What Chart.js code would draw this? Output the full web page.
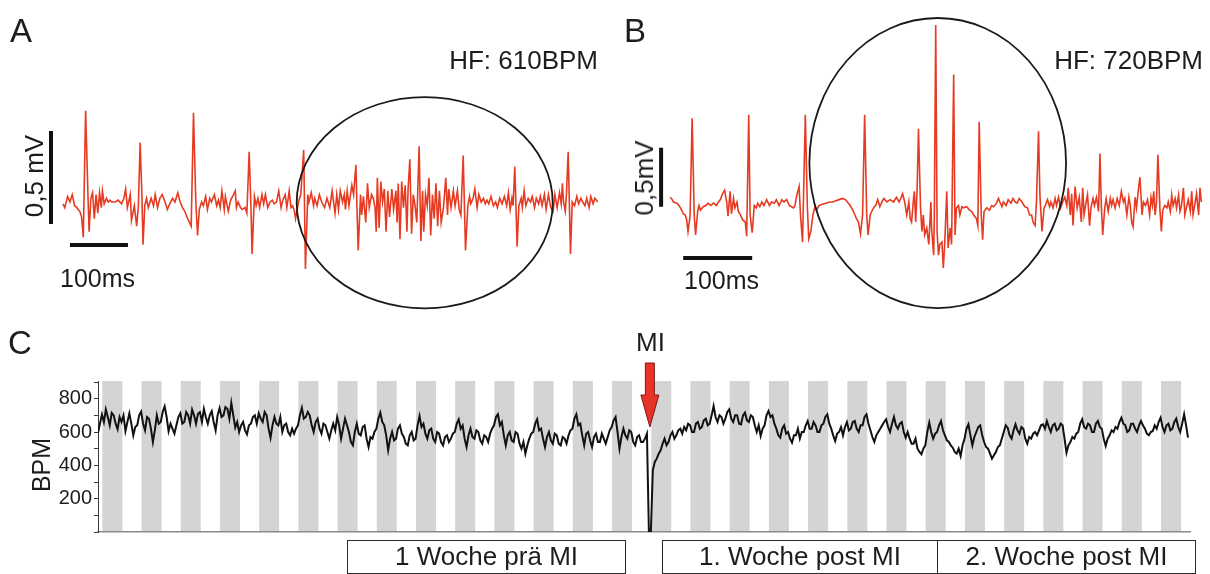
<!DOCTYPE html>
<html>
<head>
<meta charset="utf-8">
<script src="https://cdn.jsdelivr.net/npm/chart.js@4.4.1/dist/chart.umd.min.js"></script>
<style>
  html, body { margin: 0; padding: 0; background: #fff; }
  #page { position: relative; width: 1210px; height: 574px; overflow: hidden;
          font-family: Arial, "Liberation Sans", Helvetica, sans-serif; color: #1d1d1b; }
  canvas { position: absolute; }
  .t { position: absolute; line-height: 1; white-space: nowrap; }
  .rot { transform: translate(-50%, -50%) rotate(-90deg); }
  .box { position: absolute; top: 540px; height: 34px; border: 1px solid #2a2a2a; box-sizing: border-box;
         font-size: 26px; line-height: 31px; text-align: center; }
</style>
</head>
<body>
<div id="page">
  <canvas id="ecgA" width="610" height="320" style="left:0;top:0"></canvas>
  <canvas id="ecgB" width="600" height="320" style="left:610px;top:0"></canvas>
  <canvas id="bpm" width="1210" height="244" style="left:0;top:330px"></canvas>

  <div class="t" style="left:10px;top:14px;font-size:33px">A</div>
  <div class="t" style="left:624px;top:14px;font-size:33px">B</div>
  <div class="t" style="left:8px;top:326px;font-size:33px">C</div>

  <div class="t" style="right:612px;top:47px;font-size:26px">HF: 610BPM</div>
  <div class="t" style="right:7px;top:47px;font-size:26px">HF: 720BPM</div>

  <div class="t rot" style="left:34px;top:176px;font-size:26px">0,5 mV</div>
  <div class="t rot" style="left:644px;top:178px;font-size:26px">0,5mV</div>
  <div class="t" style="left:60px;top:266px;font-size:25px">100ms</div>
  <div class="t" style="left:684px;top:268px;font-size:25px">100ms</div>

  <div class="t rot" style="left:41px;top:465px;font-size:25px">BPM</div>
  <div class="t" style="left:636px;top:329px;font-size:26px">MI</div>

  <div class="box" style="left:347px;width:279px">1 Woche prä MI</div>
  <div class="box" style="left:662px;width:276px">1. Woche post MI</div>
  <div class="box" style="left:937px;width:259px">2. Woche post MI</div>
</div>

<script>
// ---- Daten ----
// EKG A (HF 610 BPM): [Zeit in ms, Spannung in mV]
const ecgA = [
  [0,-0.01],[3,-0.03],[8,0.03],[12,0],[16,0.04],[20,-0.02],[24,-0.03],[26,-0.04],[29,-0.05],[32,-0.08],
  [35,-0.19],[39,0.49],[43,0.04],[45,-0.16],[48,0.02],[51,0.05],[54,-0.09],[57,0.04],[60,-0.06],[63,0.05],
  [66,-0.03],[68,0.06],[71,-0.01],[75,0.02],[78,0],[81,0.01],[84,0],[90,0],[95,0.01],[101,-0.01],
  [105,0.02],[108,0.07],[111,-0.03],[116,0.04],[118,-0.1],[123,-0.02],[127,-0.13],[130,-0.02],[133,0.32],[136,0.04],
  [138,-0.23],[141,-0.02],[144,0.02],[147,-0.03],[152,0.02],[156,-0.02],[159,0.04],[163,-0.03],[167,0.02],[171,0.04],
  [176,0],[180,-0.04],[184,-0.01],[189,0.02],[193,0],[198,0.05],[202,0],[206,-0.03],[210,-0.05],[215,-0.09],
  [218,-0.11],[221,-0.13],[225,0.48],[229,0],[232,-0.18],[235,-0.04],[239,0],[242,-0.02],[246,0.03],[249,-0.04],
  [253,0.02],[256,0],[261,0.04],[265,-0.02],[268,0.01],[271,-0.03],[274,0.06],[278,-0.04],[280,0.03],[285,-0.05],
  [289,0.01],[294,0.04],[297,0.06],[299,-0.03],[302,0],[306,-0.03],[309,-0.04],[314,-0.03],[317,-0.06],[321,0.27],
  [324,-0.02],[326,-0.28],[330,0.03],[333,-0.02],[336,0.02],[339,-0.03],[343,0.04],[346,-0.01],[349,0.04],[353,-0.03],
  [357,0],[361,0.01],[364,-0.01],[368,0],[372,0.06],[376,-0.03],[379,0.01],[383,0.04],[386,-0.03],[390,0.06],
  [393,-0.03],[396,-0.02],[399,-0.05],[401,-0.09],[406,0],[410,0.04],[415,0.28],[418,-0.36],[422,0.04],[424,0],
  [428,0.05],[432,-0.02],[434,0.02],[438,-0.02],[442,0.04],[446,0],[451,-0.03],[455,0.02],[460,-0.03],[464,0.06],
  [469,-0.06],[472,0.04],[475,-0.04],[478,0.06],[482,0],[485,0.04],[487,-0.04],[490,0.06],[493,-0.02],[498,0.09],
  [501,0.04],[505,0.2],[507,-0.05],[509,-0.26],[513,0.04],[515,-0.07],[518,0.03],[522,-0.11],[525,0.1],[528,-0.03],
  [532,0.04],[535,0.02],[538,-0.03],[540,-0.16],[542,0.13],[545,-0.14],[548,0.11],[551,0],[554,0.07],[557,-0.16],
  [560,0.06],[563,-0.08],[567,0.07],[570,-0.04],[574,0.06],[576,-0.11],[578,0.1],[581,-0.2],[584,0.11],[587,-0.03],
  [590,0.09],[593,-0.16],[595,0.07],[598,0.23],[601,-0.17],[604,0.04],[607,-0.02],[610,-0.11],[614,0.3],[617,-0.21],
  [620,0.06],[622,-0.16],[625,0.04],[628,-0.02],[631,0.13],[634,-0.18],[637,0.04],[640,-0.09],[643,0.1],[646,-0.13],
  [649,0.06],[652,-0.11],[656,-0.03],[660,0.13],[663,-0.07],[665,0.07],[669,-0.03],[673,0.06],[676,-0.02],[680,0.06],
  [683,-0.04],[686,-0.07],[690,0.25],[694,-0.26],[698,-0.02],[701,0.03],[703,-0.01],[707,0.02],[710,0.07],[714,-0.03],
  [717,0.04],[721,0],[725,0.02],[728,-0.01],[731,0.01],[734,-0.01],[738,0.03],[742,-0.02],[746,0],[749,-0.03],
  [753,0.02],[757,-0.01],[761,0.03],[765,-0.02],[768,0.05],[771,-0.04],[774,0.02],[776,-0.02],[779,0.19],[783,-0.24],
  [786,-0.02],[790,0.02],[792,-0.03],[795,0.06],[798,-0.02],[802,0.02],[806,0],[809,0.03],[813,-0.03],[816,0.02],
  [820,-0.01],[823,0.03],[826,-0.02],[830,0.04],[833,-0.04],[837,0.04],[841,-0.03],[845,-0.05],[848,0.04],[852,-0.03],
  [856,0.05],[859,-0.01],[861,0.1],[863,0],[866,-0.05],[868,0.04],[871,0.27],[875,-0.28],[878,0],[882,-0.02],
  [886,0.03],[889,-0.01],[893,0.02],[896,0],[900,-0.02],[903,0.02],[907,-0.03],[910,0.03],[914,-0.01],[917,0.02],[922,0]
];

// EKG B (HF 720 BPM): [Zeit in ms, Spannung in mV]
const ecgB = [
  [3,0.08],[5,0.07],[8,0.04],[13,0.03],[16,0.01],[20,-0.03],[22,-0.06],[25,-0.07],[27,-0.11],[29,-0.21],
  [32,-0.08],[35,0.75],[38,-0.07],[40,-0.24],[43,-0.04],[45,0.01],[47,-0.03],[51,0],[55,0.01],[58,0.03],
  [62,0.01],[66,0.03],[70,0.01],[73,0.04],[76,0.06],[79,0.11],[82,0.14],[85,0.04],[87,-0.08],[90,0.13],
  [92,-0.06],[95,0.07],[97,-0.01],[100,0.04],[102,-0.04],[105,-0.07],[108,-0.11],[112,-0.13],[114,-0.25],[117,0.78],
  [119,-0.07],[122,-0.22],[125,0.01],[128,-0.01],[130,0.03],[133,0],[136,0.04],[139,0.01],[143,0.06],[147,0.01],
  [150,0.04],[154,0.03],[157,0.06],[161,0.01],[165,0.06],[168,0.04],[172,0.06],[176,0.01],[179,0],[182,-0.01],
  [184,0.01],[186,0.08],[190,0.17],[192,-0.07],[195,-0.3],[199,0.78],[202,-0.01],[204,-0.27],[207,-0.21],[210,-0.07],
  [213,0],[215,-0.03],[219,0.01],[224,0.02],[229,0.03],[234,0.04],[239,0.04],[243,0.05],[248,0.06],[253,0.07],
  [257,0.06],[260,0.04],[264,0.01],[268,-0.03],[273,-0.1],[276,-0.13],[279,-0.23],[282,-0.07],[285,0.78],[288,-0.07],
  [290,-0.24],[293,-0.07],[296,-0.03],[299,0],[301,0.01],[304,0.06],[307,0],[310,0.04],[313,0.07],[317,0.04],
  [322,0.06],[327,0.04],[331,0.08],[335,0.04],[338,0.08],[340,0.11],[343,0.04],[346,-0.07],[349,0.04],[351,-0.1],
  [353,-0.13],[356,0.08],[357,0.13],[359,-0.13],[361,0.14],[363,0.66],[366,-0.01],[368,-0.21],[370,-0.07],[372,-0.24],
  [375,-0.18],[378,-0.32],[381,0.04],[382,-0.18],[385,-0.41],[386,-0.07],[388,1.54],[390,-0.21],[392,-0.41],[394,-0.32],
  [397,-0.3],[399,-0.52],[401,-0.32],[404,0.13],[406,-0.35],[409,-0.18],[411,-0.32],[414,1.12],[416,-0.24],[418,-0.01],
  [421,0.01],[423,-0.07],[426,0],[428,-0.01],[433,0],[437,-0.03],[440,-0.04],[443,-0.07],[447,-0.1],[449,-0.16],
  [451,0.72],[454,-0.07],[456,-0.28],[458,-0.04],[462,-0.01],[466,-0.03],[469,0.01],[472,0],[476,0.03],[479,0.07],
  [481,0.04],[484,0],[486,0.04],[490,0.01],[493,0.06],[497,0.03],[500,0.07],[503,0.04],[506,0.03],[509,0.07],
  [513,0.04],[517,0],[521,-0.01],[524,-0.07],[527,-0.07],[529,-0.13],[532,-0.16],[534,0.04],[537,0.64],[539,0.1],
  [542,-0.21],[545,-0.01],[547,0.01],[550,0.06],[553,0],[555,0.04],[558,-0.01],[561,0.07],[563,0.01],[566,0.08],
  [569,-0.01],[572,0.04],[575,0.08],[578,0.01],[580,0.16],[583,-0.07],[585,0.11],[587,-0.16],[590,0.17],[593,-0.01],
  [596,0.08],[599,-0.13],[601,0.16],[603,-0.07],[606,0.04],[608,0.1],[611,-0.16],[613,-0.01],[616,0.07],[618,0.01],
  [621,0.08],[624,-0.04],[626,0.45],[628,0.01],[630,-0.24],[633,-0.01],[635,0.07],[638,-0.04],[641,0.07],[643,0.01],
  [645,0.06],[648,-0.01],[651,0.07],[654,0.01],[657,0.13],[660,0.04],[662,0.07],[665,-0.07],[668,0.08],[670,0.01],
  [672,-0.13],[674,-0.17],[677,0.08],[679,-0.01],[682,0.16],[684,0.25],[687,-0.07],[689,0.04],[692,0.01],[695,0.06],
  [698,-0.07],[700,0.08],[702,0.01],[704,0.13],[706,-0.07],[708,0.04],[710,0.44],[713,-0.03],[715,-0.21],[717,-0.03],
  [720,0.01],[723,-0.01],[725,0.04],[728,-0.04],[730,0.1],[732,0.01],[735,0.07],[737,-0.01],[740,0.1],[742,-0.04],
  [744,0],[747,0.16],[749,-0.07],[752,0.01],[754,0.06],[757,-0.04],[759,0.13],[761,-0.07],[764,0.04],[766,0.11],
  [769,-0.07],[771,0.16],[773,0.04]
];

// Herzfrequenz (BPM), ein Wert alle 0,05 Tage (1,2 h) ab Tag 0; eine Zeile = ein Tag
const bpmPreMI = [
  596,650,705,660,735,690,640,715,700,650,617,690,660,700,606,660,712,650,580,630,
  640,700,722,650,610,690,680,620,540,610,700,650,660,720,754,690,605,650,620,590,
  640,690,712,650,660,720,700,650,735,700,650,710,720,660,738,690,650,700,725,660,
  610,700,743,690,700,750,740,680,775,700,627,660,600,640,660,610,586,640,650,690,
  700,650,712,680,660,720,700,620,565,640,690,650,640,690,600,640,650,600,580,620,
  590,620,640,700,745,680,690,720,700,640,600,660,680,620,590,650,640,600,560,610,
  650,610,690,640,560,620,680,640,600,540,520,600,650,590,580,630,640,560,510,570,
  560,600,620,680,716,660,640,580,490,560,600,550,560,620,640,590,570,530,520,580,
  600,550,560,640,696,630,650,590,560,610,620,560,540,600,590,540,520,570,580,540,
  560,590,600,650,676,620,640,560,510,580,620,570,560,610,600,550,530,580,570,540,
  590,620,640,690,706,640,660,580,520,580,600,550,540,600,590,530,500,540,470,520,
  560,590,600,650,676,610,620,560,510,570,600,550,530,590,580,530,520,570,560,530,
  580,610,620,680,706,640,650,580,520,590,600,550,510,570,590,540,540,590,560,530,
  570,610,630,670,690,600,500,570,620,580,560,610,600,540,520,570,580,540,540,560
];
const bpmPostMI = [
  590,0,0,370,420,440,470,490,530,560,520,540,580,600,560,580,610,620,590,630,
  610,650,640,600,600,650,660,620,630,670,680,640,650,700,756,690,660,700,690,650,
  680,720,736,680,660,700,700,650,646,700,716,670,660,700,690,640,600,640,576,620,
  640,700,726,690,700,650,620,580,566,620,640,590,600,560,536,580,580,620,560,600,
  600,640,666,620,620,660,640,600,600,640,650,690,706,650,620,580,546,590,600,630,
  580,630,660,610,620,660,666,620,600,640,640,690,706,650,610,570,540,580,600,620,
  640,660,676,630,600,650,690,640,620,650,660,600,566,600,560,530,530,560,500,480,
  466,500,520,600,656,600,560,590,600,640,666,610,580,550,540,520,506,480,470,500,
  456,520,560,620,646,580,520,570,600,630,640,580,540,510,500,470,440,460,480,510,
  520,560,600,640,626,580,560,610,646,610,590,630,620,560,530,570,560,590,600,580,
  610,640,646,620,666,630,600,640,650,610,620,650,640,560,476,520,540,570,560,590,
  600,650,676,630,620,650,640,600,600,650,666,630,620,560,516,560,580,610,600,630,
  620,660,686,650,640,600,610,650,650,620,600,640,666,640,620,590,580,600,606,640,
  620,660,686,630,600,640,650,610,620,660,680,630,600,650,706,640,566
];
const samplesPerDay = 20;
const miDay = 14.1;             // Zeitpunkt des Infarkts (Tag)
const darkPhase = [0.11, 0.62]; // Dunkelphase innerhalb jedes Tages
const bpmTicks = [0, 100, 200, 300, 400, 500, 600, 700, 800, 900];
const bpmTickLabels = [200, 400, 600, 800];

// ---- Darstellung ----
const FONT = 'Arial, "Liberation Sans", Helvetica, sans-serif';
const RED = '#e63b22';

// Pixel-Kalibrierung der EKG-Panels (Nulllinie, px pro ms / mV)
const calA = { x0: 63, pxPerMs: 0.58, y0: 202, pxPerMv: 186, w: 610, h: 320 };
const calB = { x0: 58, pxPerMs: 0.69, y0: 206.7, pxPerMv: 118, w: 600, h: 320 };

const ecgMarks = {
  id: 'ecgMarks',
  afterDatasetsDraw(chart, args, o) {
    const { ctx, scales: { x, y } } = chart;
    ctx.save();
    // Ellipse um den Arrhythmie-Abschnitt
    const cx = x.getPixelForValue(o.ellipse.ms), cy = y.getPixelForValue(o.ellipse.mv);
    const rx = x.getPixelForValue(o.ellipse.ms + o.ellipse.rMs) - cx;
    const ry = cy - y.getPixelForValue(o.ellipse.mv + o.ellipse.rMv);
    ctx.strokeStyle = '#1a1a1a';
    ctx.lineWidth = 1.8;
    ctx.beginPath();
    ctx.ellipse(cx, cy, rx, ry, 0, 0, Math.PI * 2);
    ctx.stroke();
    // Skalenbalken 0,5 mV / 100 ms
    ctx.lineWidth = 4;
    ctx.strokeStyle = '#111';
    ctx.beginPath();
    const vx = x.getPixelForValue(o.vBar.ms);
    ctx.moveTo(vx, y.getPixelForValue(o.vBar.from));
    ctx.lineTo(vx, y.getPixelForValue(o.vBar.from + 0.5));
    const hy = y.getPixelForValue(o.hBar.mv);
    ctx.moveTo(x.getPixelForValue(o.hBar.from), hy);
    ctx.lineTo(x.getPixelForValue(o.hBar.from + 100), hy);
    ctx.stroke();
    ctx.restore();
  }
};

function ecgChart(id, data, cal, marks) {
  return new Chart(document.getElementById(id), {
    type: 'line',
    data: { datasets: [{ data: data, borderColor: RED, borderWidth: 1.6, pointRadius: 0, tension: 0 }] },
    options: {
      responsive: false, animation: false, devicePixelRatio: 1,
      layout: { padding: 0 },
      plugins: { legend: { display: false }, tooltip: { enabled: false }, ecgMarks: marks },
      scales: {
        x: { type: 'linear', display: false,
             min: -cal.x0 / cal.pxPerMs, max: (cal.w - cal.x0) / cal.pxPerMs },
        y: { type: 'linear', display: false,
             min: (cal.y0 - cal.h) / cal.pxPerMv, max: cal.y0 / cal.pxPerMv }
      }
    },
    plugins: [ecgMarks]
  });
}

ecgChart('ecgA', ecgA, calA, {
  ellipse: { ms: 623.6, mv: -0.004, rMs: 220.7, rMv: 0.568 },
  vBar: { ms: -20.7, from: -0.118 },
  hBar: { from: 12, mv: -0.231 }
});
ecgChart('ecgB', ecgB, calB, {
  ellipse: { ms: 390.9, mv: 0.37, rMs: 186, rMv: 1.229 },
  vBar: { ms: -10, from: 0 },
  hBar: { from: 22, mv: -0.435 }
});

// ---- Panel C ----
const bpmValues = bpmPreMI.concat(bpmPostMI);
const bpmPoints = bpmValues.map((v, i) => ({ x: i / samplesPerDay, y: v }));

const bpmDecor = {
  id: 'bpmDecor',
  beforeDraw(chart) {
    // graue Balken = Dunkelphasen
    const { ctx, chartArea: a, scales: { x } } = chart;
    ctx.save();
    ctx.fillStyle = '#d4d4d4';
    for (let d = 0; d < 30; d++) {
      const x0 = x.getPixelForValue(d + darkPhase[0]);
      const x1 = Math.min(x.getPixelForValue(d + darkPhase[1]), a.right);
      if (x0 >= a.right) break;
      ctx.fillRect(x0, a.top, x1 - x0, a.bottom - a.top);
    }
    ctx.restore();
  },
  afterDatasetsDraw(chart) {
    // roter Pfeil am Infarktzeitpunkt
    const { ctx, scales: { x } } = chart;
    const cx = x.getPixelForValue(miDay) - 1;
    const top = 33, headY = 65, tip = 97, sw = 4.5, hw = 9;
    ctx.save();
    ctx.fillStyle = '#e8332a';
    ctx.strokeStyle = '#7a1a12';
    ctx.lineWidth = 1;
    ctx.beginPath();
    ctx.moveTo(cx - sw, top);
    ctx.lineTo(cx + sw, top);
    ctx.lineTo(cx + sw, headY);
    ctx.lineTo(cx + hw, headY);
    ctx.lineTo(cx, tip);
    ctx.lineTo(cx - hw, headY);
    ctx.lineTo(cx - sw, headY);
    ctx.closePath();
    ctx.fill();
    ctx.stroke();
    ctx.restore();
  }
};

new Chart(document.getElementById('bpm'), {
  type: 'line',
  data: { datasets: [{ data: bpmPoints, borderColor: '#111', borderWidth: 2, pointRadius: 0, tension: 0 }] },
  options: {
    responsive: false, animation: false, devicePixelRatio: 1,
    layout: { padding: { left: 0, right: 20, top: 51, bottom: 42 } },
    plugins: { legend: { display: false }, tooltip: { enabled: false } },
    scales: {
      x: {
        type: 'linear', min: 0, max: 27.85,
        afterFit(s) { s.height = 0; },
        ticks: { display: false },
        grid: { display: false },
        border: { display: true, color: '#8a8a8a', width: 1.5 }
      },
      y: {
        min: 0, max: 906,
        afterFit(s) { s.width = 98; },
        afterBuildTicks(s) { s.ticks = bpmTicks.map(v => ({ value: v })); },
        border: { display: true, color: '#3a3a3a', width: 1 },
        grid: { display: true, drawOnChartArea: false, drawTicks: true, tickLength: 4, color: '#3a3a3a' },
        ticks: {
          autoSkip: false, padding: 2,
          color: '#1d1d1b', font: { family: FONT, size: 20 },
          callback: v => bpmTickLabels.includes(v) ? String(v) : ''
        }
      }
    }
  },
  plugins: [bpmDecor]
});
</script>
</body>
</html>
